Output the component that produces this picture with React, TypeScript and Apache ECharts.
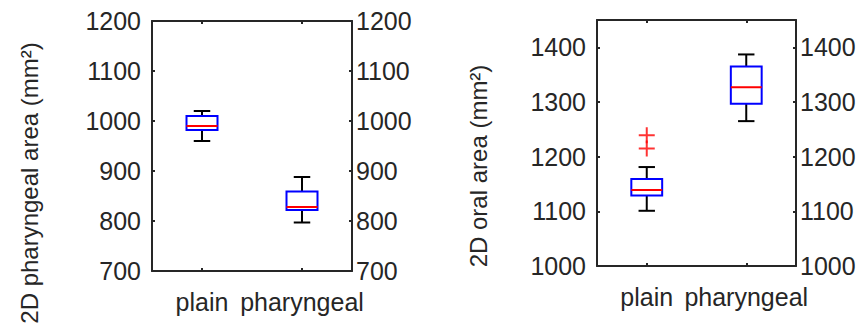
import React, { useEffect, useRef } from "react";
import * as echarts from "echarts";

// Data
const categories = ["plain", "pharyngeal"];
// [min whisker, Q1, median, Q3, max whisker]
const pharyngealStats = [
  [960, 982, 990, 1010, 1020],
  [797, 822, 828, 859, 888],
];
const oralStats = [
  [1101, 1129, 1139, 1159, 1181],
  [1265, 1297, 1327, 1365, 1387],
];
const oralOutliers = [
  ["plain", 1239],
  ["plain", 1215],
];
const pharyngealTicks = { min: 700, max: 1200, interval: 100 };
const oralTicks = { min: 1000, max: 1450, interval: 100 };
const pharyngealTitle = "2D pharyngeal area (mm²)";
const oralTitle = "2D oral area (mm²)";

const FONT = '"Liberation Sans", Arial, sans-serif';
const INK = "#262626";
const FS = 25;
const TITLE_FS = 24;

function boxRender(params: any, api: any) {
  const x = api.value(0);
  const lo = api.coord([x, api.value(1)]);
  const q1 = api.coord([x, api.value(2)]);
  const md = api.coord([x, api.value(3)]);
  const q3 = api.coord([x, api.value(4)]);
  const hi = api.coord([x, api.value(5)]);
  const band = api.size([1, 0])[0];
  const bw = band * 0.31;
  const cw = band * 0.165;
  const cx = lo[0];
  const black = { stroke: "#000000", lineWidth: 2 };
  return {
    type: "group",
    children: [
      { type: "line", shape: { x1: cx, y1: hi[1], x2: cx, y2: q3[1] }, style: black },
      { type: "line", shape: { x1: cx, y1: q1[1], x2: cx, y2: lo[1] }, style: black },
      { type: "line", shape: { x1: cx - cw / 2, y1: hi[1], x2: cx + cw / 2, y2: hi[1] }, style: black },
      { type: "line", shape: { x1: cx - cw / 2, y1: lo[1], x2: cx + cw / 2, y2: lo[1] }, style: black },
      {
        type: "rect",
        shape: { x: cx - bw / 2, y: q3[1], width: bw, height: q1[1] - q3[1] },
        style: { fill: "none", stroke: "#0000FF", lineWidth: 2 },
      },
      {
        type: "line",
        shape: { x1: cx - bw / 2, y1: md[1], x2: cx + bw / 2, y2: md[1] },
        style: { stroke: "#FF0000", lineWidth: 2 },
      },
    ],
  };
}

function axesFor(gridIndex: number, ticks: any) {
  const line = { show: true, lineStyle: { color: INK, width: 2 } };
  const tick = { show: true, inside: true, length: 3, lineStyle: { color: INK, width: 2 } };
  const label = {
    color: INK,
    fontSize: FS,
    fontFamily: FONT,
  };
  const yLabelFmt = (v: number) => (v % 100 === 0 ? String(v) : "");
  const xAxes = [
    {
      type: "category",
      gridIndex,
      data: categories,
      position: "bottom",
      axisLine: line,
      axisTick: { ...tick, alignWithLabel: true },
      axisLabel: { ...label, margin: 18, interval: 0, hideOverlap: false },
      splitLine: { show: false },
    },
    {
      type: "category",
      gridIndex,
      data: categories,
      position: "top",
      axisLine: line,
      axisTick: { ...tick, alignWithLabel: true, interval: 0 },
      axisLabel: { show: false },
      splitLine: { show: false },
    },
  ];
  const yAxes = [
    {
      type: "value",
      gridIndex,
      position: "left",
      min: ticks.min,
      max: ticks.max,
      interval: ticks.interval,
      axisLine: line,
      axisTick: tick,
      axisLabel: { ...label, margin: 11, formatter: yLabelFmt, showMaxLabel: ticks.max % 100 === 0 },
      splitLine: { show: false },
    },
    {
      type: "value",
      gridIndex,
      position: "right",
      min: ticks.min,
      max: ticks.max,
      interval: ticks.interval,
      axisLine: line,
      axisTick: tick,
      axisLabel: { ...label, margin: 4, formatter: yLabelFmt, showMaxLabel: ticks.max % 100 === 0 },
      splitLine: { show: false },
    },
  ];
  return { xAxes, yAxes };
}

export default function App() {
  const ref = useRef<HTMLDivElement>(null);
  useEffect(() => {
    if (!ref.current) return;
    const chart = echarts.init(ref.current, undefined, { renderer: "svg" });
    const a0 = axesFor(0, pharyngealTicks);
    const a1 = axesFor(1, oralTicks);
    chart.setOption({
      animation: false,
      backgroundColor: "#ffffff",
      grid: [
        { left: 152, top: 21, width: 200, height: 250 },
        { left: 597, top: 20, width: 199, height: 246 },
      ],
      xAxis: [...a0.xAxes, ...a1.xAxes],
      yAxis: [...a0.yAxes, ...a1.yAxes],
      graphic: [
        {
          type: "text",
          x: 29,
          y: 183,
          rotation: Math.PI / 2,
          style: {
            text: pharyngealTitle,
            fontSize: TITLE_FS,
            fontFamily: FONT,
            fill: INK,
            align: "center",
            verticalAlign: "middle",
          },
        },
        {
          type: "text",
          x: 478,
          y: 166,
          rotation: Math.PI / 2,
          style: {
            text: oralTitle,
            fontSize: TITLE_FS,
            fontFamily: FONT,
            fill: INK,
            align: "center",
            verticalAlign: "middle",
          },
        },
      ],
      series: [
        {
          type: "custom",
          xAxisIndex: 0,
          yAxisIndex: 0,
          renderItem: boxRender,
          data: pharyngealStats.map((s, i) => [i, ...s]),
        },
        {
          type: "custom",
          xAxisIndex: 2,
          yAxisIndex: 2,
          renderItem: boxRender,
          data: oralStats.map((s, i) => [i, ...s]),
        },
        {
          type: "scatter",
          xAxisIndex: 2,
          yAxisIndex: 2,
          symbol: "path://M8,0 L8,16 M0,8 L16,8",
          symbolSize: 16,
          itemStyle: { color: "none", borderColor: "#FF0000", borderWidth: 2 },
          data: oralOutliers,
        },
      ],
    });
    return () => chart.dispose();
  }, []);
  return (
    <div
      ref={ref}
      style={{ position: "absolute", left: 0, top: 0, width: 860, height: 325 }}
    />
  );
}
